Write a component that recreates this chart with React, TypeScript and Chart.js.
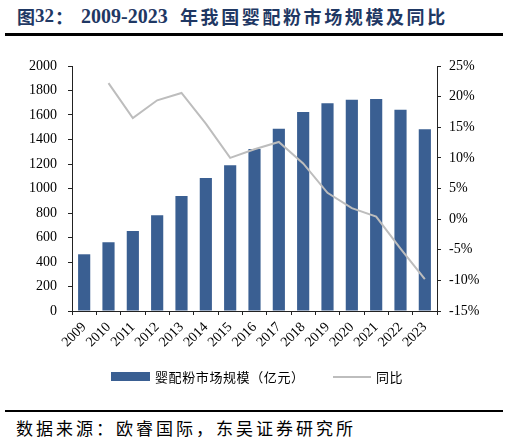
import React, { useEffect, useRef } from "react";
import { Chart, registerables } from "chart.js";

Chart.register(...registerables);

const years = ["2009","2010","2011","2012","2013","2014","2015","2016","2017","2018","2019","2020","2021","2022","2023"];
const marketSize = [463, 561, 653, 781, 939, 1086, 1189, 1322, 1488, 1624, 1696, 1725, 1731, 1643, 1483];
const yoy = [null, 22.2, 16.5, 19.4, 20.6, 15.6, 10.0, 11.4, 12.6, 9.1, 4.3, 1.8, 0.4, -4.8, -9.8];
const leftTicks = { min: 0, max: 2000, step: 200 };
const rightTicks = { min: -15, max: 25, step: 5 };

const BAR_COLOR = "#3A5F92";
const LINE_COLOR = "#BDBDBD";
const AXIS_COLOR = "#222";

const CANVAS_TOP = 50;
const CANVAS_H = 320;
const W = 509;
const AREA = { left: 72, right: 437, top: 66, bottom: 311 };

export default function App() {
  const ref = useRef<HTMLCanvasElement | null>(null);

  useEffect(() => {
    const canvas = ref.current;
    if (!canvas) return;
    const serif = "'Liberation Serif', serif";
    const fitV = (w: number) => (s: any) => {
      s.width = w;
      s.paddingTop = 0;
      s.paddingBottom = 0;
    };
    const chart = new Chart(canvas, {
      type: "bar",
      data: {
        labels: years,
        datasets: [
          {
            type: "line",
            label: "同比",
            data: yoy,
            yAxisID: "y1",
            borderColor: LINE_COLOR,
            borderWidth: 2,
            pointRadius: 0,
            tension: 0,
            order: 0,
          } as any,
          {
            type: "bar",
            label: "婴配粉市场规模（亿元）",
            data: marketSize,
            yAxisID: "y",
            backgroundColor: BAR_COLOR,
            barPercentage: 0.5,
            categoryPercentage: 1,
            order: 1,
          },
        ],
      },
      options: {
        responsive: false,
        animation: false,
        layout: { padding: { top: AREA.top - CANVAS_TOP, left: 0, right: 0, bottom: 0 } },
        plugins: { legend: { display: false }, tooltip: { enabled: false } },
        scales: {
          x: {
            offset: true,
            grid: { display: true, drawOnChartArea: false, drawTicks: true, tickLength: 4, offset: true, color: AXIS_COLOR },
            border: { display: true, color: AXIS_COLOR, width: 1 },
            ticks: {
              autoSkip: false,
              minRotation: 45,
              maxRotation: 45,
              padding: 4,
              color: "#000",
              font: { family: serif, size: 14 },
            },
            afterFit: (s: any) => {
              s.height = CANVAS_TOP + CANVAS_H - AREA.bottom;
              s.paddingLeft = 0;
              s.paddingRight = 0;
            },
          },
          y: {
            position: "left",
            min: leftTicks.min,
            max: leftTicks.max,
            grid: { display: true, drawOnChartArea: false, drawTicks: true, tickLength: 4, color: AXIS_COLOR },
            border: { display: true, color: AXIS_COLOR, width: 1 },
            ticks: {
              stepSize: leftTicks.step,
              padding: 11,
              color: "#000",
              font: { family: serif, size: 14 },
              callback: (v: any) => String(v),
            },
            afterFit: fitV(AREA.left),
          },
          y1: {
            position: "right",
            min: rightTicks.min,
            max: rightTicks.max,
            grid: { display: true, drawOnChartArea: false, drawTicks: true, tickLength: 4, color: AXIS_COLOR },
            border: { display: true, color: AXIS_COLOR, width: 1 },
            ticks: {
              stepSize: rightTicks.step,
              padding: 8,
              color: "#000",
              font: { family: serif, size: 14 },
              callback: (v: any) => `${v}%`,
            },
            afterFit: fitV(W - AREA.right),
          },
        },
      } as any,
    });
    return () => chart.destroy();
  }, []);

  const cjk = "'Noto Sans CJK SC', sans-serif";
  const titleBase: React.CSSProperties = {
    position: "absolute",
    top: 4,
    fontWeight: 700,
    color: "#1F3864",
    whiteSpace: "nowrap",
    lineHeight: "24px",
  };
  return (
    <div style={{ position: "absolute", left: 0, top: 0, width: W, height: 445, background: "#fff", overflow: "hidden" }}>
      <div style={{ ...titleBase, left: 17, fontFamily: cjk, fontSize: 18 }}>图</div>
      <div style={{ ...titleBase, left: 35, fontFamily: "'Liberation Serif', serif", fontSize: 19 }}>32</div>
      <div style={{ ...titleBase, left: 55, fontFamily: cjk, fontSize: 18 }}>：</div>
      <div style={{ ...titleBase, left: 81, fontFamily: "'Liberation Serif', serif", fontSize: 20 }}>2009-2023</div>
      <div style={{ ...titleBase, left: 180, fontFamily: cjk, fontSize: 18, letterSpacing: 2.6 }}>年我国婴配粉市场规模及同比</div>
      <div style={{ position: "absolute", left: 5, top: 33, width: 498, height: 2.5, background: "#000" }} />
      <canvas
        ref={ref}
        width={W}
        height={CANVAS_H}
        style={{ position: "absolute", left: 0, top: CANVAS_TOP, width: W, height: CANVAS_H }}
      />
      <div style={{ position: "absolute", left: 111, top: 372, width: 39, height: 9, background: BAR_COLOR }} />
      <div
        style={{
          position: "absolute",
          left: 155,
          top: 368,
          fontFamily: cjk,
          fontSize: 13,
          letterSpacing: 0.6,
          lineHeight: "18px",
          color: "#000",
          whiteSpace: "nowrap",
        }}
      >
        婴配粉市场规模（亿元）
      </div>
      <div style={{ position: "absolute", left: 333, top: 376, width: 38, height: 2, background: LINE_COLOR }} />
      <div
        style={{
          position: "absolute",
          left: 376,
          top: 368,
          fontFamily: cjk,
          fontSize: 13,
          letterSpacing: 0.6,
          lineHeight: "18px",
          color: "#000",
          whiteSpace: "nowrap",
        }}
      >
        同比
      </div>
      <div style={{ position: "absolute", left: 5, top: 409.5, width: 498, height: 2.5, background: "#000" }} />
      <div
        style={{
          position: "absolute",
          left: 16,
          top: 417,
          fontFamily: cjk,
          fontSize: 17,
          letterSpacing: 3,
          lineHeight: "22px",
          color: "#000",
          whiteSpace: "nowrap",
        }}
      >
        数据来源：欧睿国际，东吴证券研究所
      </div>
    </div>
  );
}
